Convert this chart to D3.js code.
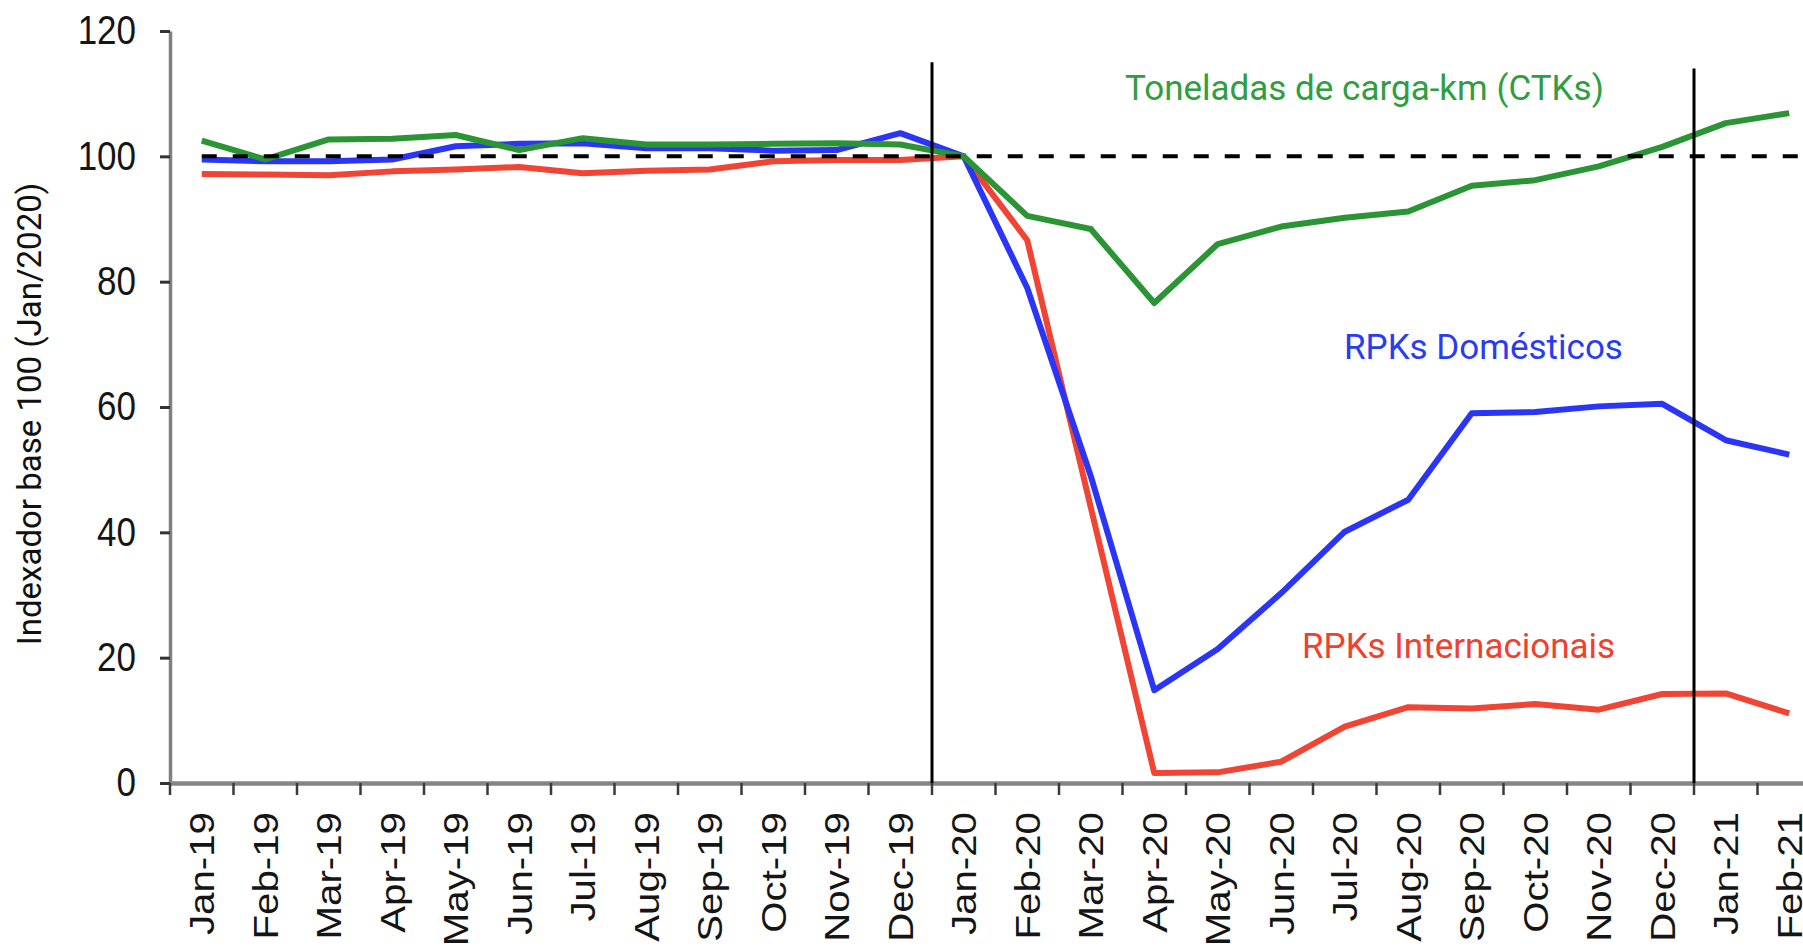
<!DOCTYPE html>
<html>
<head>
<meta charset="utf-8">
<script src="https://cdn.jsdelivr.net/npm/d3@7"></script>
<style>
  html, body { margin: 0; padding: 0; background: #fff; }
  svg { display: block; }
</style>
</head>
<body>
<svg id="chart" width="1803" height="950"></svg>
<script>
// ---- Data ----
const months = ["Jan-19","Feb-19","Mar-19","Apr-19","May-19","Jun-19","Jul-19","Aug-19","Sep-19","Oct-19","Nov-19","Dec-19",
                "Jan-20","Feb-20","Mar-20","Apr-20","May-20","Jun-20","Jul-20","Aug-20","Sep-20","Oct-20","Nov-20","Dec-20",
                "Jan-21","Feb-21"];
const ctks = [102.5, 99.5, 102.7, 102.8, 103.4, 101.0, 102.9, 101.9, 101.9, 102.0, 102.1, 101.9,
              100.0, 90.5, 88.4, 76.6, 86.0, 88.8, 90.2, 91.2, 95.3, 96.2, 98.4, 101.5, 105.3, 106.9];
const rpkDomestic = [99.5, 99.2, 99.2, 99.5, 101.6, 102.0, 102.1, 101.3, 101.3, 100.9, 101.0, 103.7,
                     100.0, 79.0, 49.0, 14.8, 21.4, 30.3, 40.1, 45.2, 59.0, 59.2, 60.1, 60.5, 54.7, 52.4];
const rpkInternational = [97.2, 97.1, 97.0, 97.6, 97.9, 98.3, 97.3, 97.7, 97.9, 99.2, 99.4, 99.4,
                          100.0, 86.6, 44.0, 1.6, 1.7, 3.4, 9.0, 12.1, 11.9, 12.6, 11.7, 14.2, 14.3, 11.1];
const yTicks = [0, 20, 40, 60, 80, 100, 120];
const baseValue = 100;
const dividerMonths = ["Jan-20", "Jan-21"];
const dividerTops = [115, 114];
const seriesNames = ["RPKs Internacionais", "RPKs Domésticos", "Toneladas de carga-km (CTKs)"];
const yTitle = "Indexador base 100 (Jan/2020)";

// ---- Setup ----
const W = 1803, H = 950;
const svg = d3.select("#chart");
const x = d3.scaleBand().domain(months).range([170, 170 + 26 * 63.5]).padding(0);
const y = d3.scaleLinear().domain([0, 120]).range([783, 31]);
const xc = m => x(m) + x.bandwidth() / 2;

const colors = { red: "#f04434", blue: "#2a35f6", green: "#2b9536" };
const labelColors = { red: "#f0402e", blue: "#2a3cf0", green: "#2f9e40" };

// ---- Axes ----
const gy = svg.append("g")
  .attr("transform", "translate(170,0)")
  .call(d3.axisLeft(y).tickValues(yTicks).tickSize(10).tickSizeOuter(0).tickPadding(24));
gy.select(".domain").attr("stroke", "#808080").attr("stroke-width", 3.5);
gy.selectAll(".tick line").attr("stroke", "#333").attr("stroke-width", 3);
gy.selectAll(".tick text")
  .attr("font-family", "'Liberation Sans', Arial, sans-serif")
  .attr("font-size", 35)
  .attr("fill", "#151515")
  .attr("transform", "scale(1,1.15)");

const gx = svg.append("g")
  .attr("transform", "translate(0,783)")
  .call(d3.axisBottom(x).tickSize(12).tickSizeOuter(0));
gx.select(".domain").attr("stroke", "#858585").attr("stroke-width", 4.5);
gx.selectAll(".tick line")
  .attr("x1", -x.bandwidth() / 2).attr("x2", -x.bandwidth() / 2)
  .attr("stroke", "#3a3a3a").attr("stroke-width", 2.5);
gx.selectAll(".tick text")
  .attr("x", 0).attr("y", 0).attr("dy", "0.36em")
  .attr("text-anchor", "end")
  .attr("font-family", "'Liberation Sans', Arial, sans-serif")
  .attr("font-size", 35)
  .attr("fill", "#151515")
  .attr("transform", "translate(0,29) rotate(-90) scale(1.15,1)");

// y title
svg.append("text")
  .attr("transform", `translate(29,414) rotate(-90)`)
  .attr("text-anchor", "middle")
  .attr("dy", "0.35em")
  .attr("font-family", "Roboto, 'Liberation Sans', Arial, sans-serif")
  .attr("font-size", 33)
  .attr("fill", "#111")
  .text(yTitle);

// ---- Lines ----
const line = d3.line().x((d, i) => xc(months[i])).y(d => y(d));
const series = [
  { values: rpkInternational, color: colors.red },
  { values: rpkDomestic, color: colors.blue },
  { values: ctks, color: colors.green }
];
svg.append("g").selectAll("path").data(series).join("path")
  .attr("d", d => line(d.values))
  .attr("fill", "none")
  .attr("stroke", d => d.color)
  .attr("stroke-width", 6)
  .attr("stroke-linejoin", "round");

// dashed base line
svg.append("line")
  .attr("x1", xc(months[0])).attr("x2", W)
  .attr("y1", y(baseValue)).attr("y2", y(baseValue))
  .attr("stroke", "#000").attr("stroke-width", 4)
  .attr("stroke-dasharray", "15,16");

// vertical dividers
svg.append("g").selectAll("line").data(dividerMonths).join("line")
  .attr("x1", d => x(d)).attr("x2", d => x(d))
  .attr("y1", (d, i) => y(dividerTops[i])).attr("y2", y(0))
  .attr("stroke", "#000").attr("stroke-width", 3);

// ---- Series labels ----
const lbl = svg.append("g")
  .attr("font-family", "Roboto, 'Liberation Sans', Arial, sans-serif")
  .attr("font-size", 35);
lbl.append("text").attr("x", 1125).attr("y", 100).attr("fill", labelColors.green).text(seriesNames[2]);
lbl.append("text").attr("x", 1344).attr("y", 359).attr("fill", labelColors.blue).text(seriesNames[1]);
lbl.append("text").attr("x", 1302).attr("y", 658).attr("fill", labelColors.red).text(seriesNames[0]);
</script>
</body>
</html>
